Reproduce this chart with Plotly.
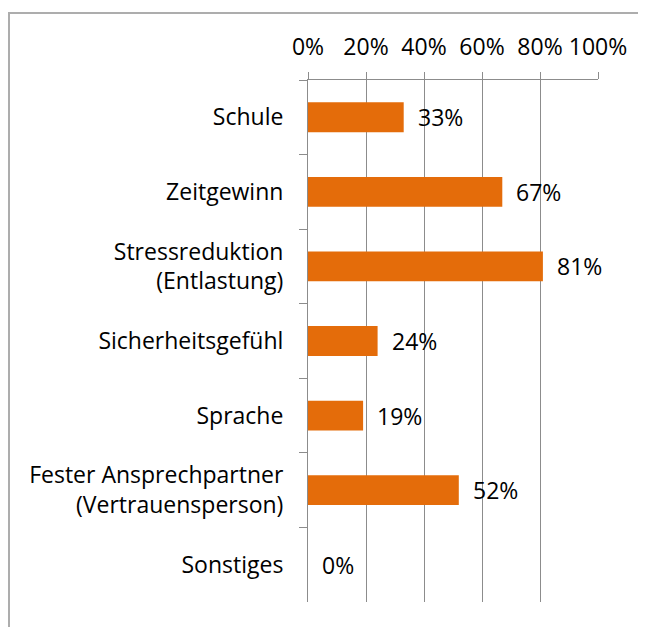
import plotly.graph_objects as go

# survey answers, top to bottom as in the chart
categories = [
    "Schule",
    "Zeitgewinn",
    "Stressreduktion<br>(Entlastung)",
    "Sicherheitsgefühl",
    "Sprache",
    "Fester Ansprechpartner<br>(Vertrauensperson)",
    "Sonstiges",
]
values = [33, 67, 81, 24, 19, 52, 0]
tick_vals = [0, 20, 40, 60, 80, 100]
tick_text = ["0%", "20%", "40%", "60%", "80%", "100%"]

# the page adds an 8px body margin, so the figure is a bit smaller than the window
W, H = 638, 619
L, R, T, B = 300, 48, 72, 25
FONT = dict(family="Open Sans, sans-serif", size=23, color="#000000")

fig = go.Figure(go.Bar(
    x=values,
    y=categories,
    orientation="h",
    marker=dict(color="#E46C0A", line=dict(width=0)),
    width=0.4,
    hoverinfo="skip",
))

# value labels next to each bar
for cat, v in zip(categories, values):
    fig.add_annotation(
        x=v, y=cat, text=f"{v}%", showarrow=False,
        xanchor="left", xshift=12, font=FONT,
    )

# outer chart frame: only the left and top edges are visible in the picture
pw = W - L - R
ph = H - T - B
fx0 = (1 - L) / pw
fx1 = (W - L) / pw
fy0 = -B / ph
fy1 = 1 + (T - 5) / ph
fig.add_shape(
    type="path", xref="paper", yref="paper",
    path=f"M {fx0},{fy0} L {fx0},{fy1} L {fx1},{fy1}",
    line=dict(color="#ADADAD", width=2), layer="below",
)

fig.update_layout(
    width=W, height=H,
    margin=dict(l=L, r=R, t=T, b=B),
    paper_bgcolor="white", plot_bgcolor="white",
    showlegend=False,
    font=FONT,
    xaxis=dict(
        side="top", range=[0, 100], tickvals=tick_vals, ticktext=tick_text,
        showgrid=True, gridcolor="#8C8C8C", gridwidth=1,
        showline=True, linecolor="#8C8C8C", linewidth=1,
        ticks="outside", ticklen=7, tickcolor="#8C8C8C",
        zeroline=False, tickfont=FONT, ticklabelstandoff=8,
    ),
    yaxis=dict(
        autorange="reversed", showgrid=False,
        showline=True, linecolor="#8C8C8C", linewidth=1,
        ticks="outside", ticklen=8, tickcolor="#8C8C8C",
        tickson="boundaries", ticklabelstandoff=19, tickfont=FONT,
    ),
)

fig.write_html("out.html", config={"displayModeBar": False})
